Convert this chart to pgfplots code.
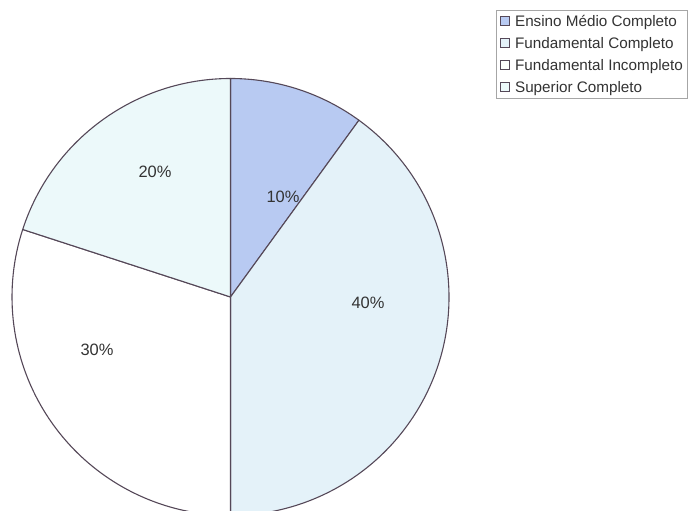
\documentclass[border=0pt]{standalone}
\usepackage{pgfplots}
\pgfplotsset{compat=1.18}
\usepackage{fontspec}
\setmainfont{Liberation Sans}
\definecolor{edgecol}{HTML}{554858}
\definecolor{cA}{HTML}{B8CAF2}
\definecolor{cB}{HTML}{E4F2F9}
\definecolor{cC}{HTML}{FFFFFF}
\definecolor{cD}{HTML}{ECF9FA}
\definecolor{txt}{HTML}{333333}
% slice: start percent, percent, colour
\newcommand\pieslice[3]{%
  \edef\temp{\noexpand\filldraw[fill=#3, draw=edgecol, line width=1.1bp, line join=round]
    (axis cs:230.5,214) -- ++({90-3.6*#1}:218.5bp)
    arc[start angle={90-3.6*#1}, delta angle={-3.6*#2}, radius=218.5bp] -- cycle;}\temp}
\begin{document}
\begin{tikzpicture}
\begin{axis}[
  scale only axis, width=689bp, height=511bp,
  xmin=0, xmax=689, ymin=0, ymax=511,
  hide axis, clip=true,
  legend style={at={(axis cs:496,501)}, anchor=north west,
    draw=gray!70, line width=0.6bp, font=\fontsize{15.3}{17}\selectfont\color{txt},
    inner xsep=2bp, inner ysep=2.5bp, row sep=5.5bp, cells={anchor=west}},
  legend cell align=left,
  legend image code/.code={\filldraw[#1] (2bp,-4.5bp) rectangle (11bp,4.5bp);\path (0bp,0bp) (14bp,0bp);},
]
\pieslice{0}{10}{cA}
\pieslice{10}{40}{cB}
\pieslice{50}{30}{cC}
\pieslice{80}{20}{cD}
\addlegendimage{fill=cA, draw=edgecol, line width=0.8bp}
\addlegendentry{Ensino Médio Completo}
\addlegendimage{fill=cB, draw=edgecol, line width=0.8bp}
\addlegendentry{Fundamental Completo}
\addlegendimage{fill=cC, draw=edgecol, line width=0.8bp}
\addlegendentry{Fundamental Incompleto}
\addlegendimage{fill=cD, draw=edgecol, line width=0.8bp}
\addlegendentry{Superior Completo}
\node[font=\fontsize{16.5}{18}\selectfont, text=txt] at (axis cs:283,314) {10\%};
\node[font=\fontsize{16.5}{18}\selectfont, text=txt] at (axis cs:155,339) {20\%};
\node[font=\fontsize{16.5}{18}\selectfont, text=txt] at (axis cs:368,208) {40\%};
\node[font=\fontsize{16.5}{18}\selectfont, text=txt] at (axis cs:97,161) {30\%};
\end{axis}
\pgfresetboundingbox
\useasboundingbox (0,0) rectangle (689bp,511bp);
\end{tikzpicture}
\end{document}
